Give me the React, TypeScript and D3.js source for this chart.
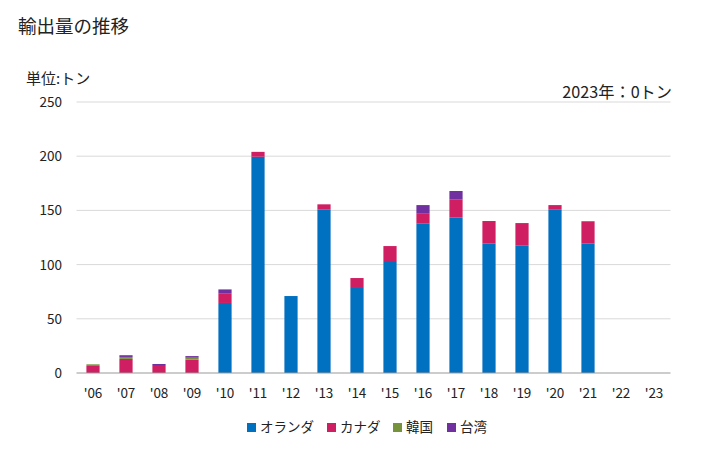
import React from "react";
import * as d3 from "d3";

const years = ["'06","'07","'08","'09","'10","'11","'12","'13","'14","'15","'16","'17","'18","'19","'20","'21","'22","'23"];
const netherlands = [0, 0, 0, 0, 64.6, 199.5, 71, 151, 79.3, 103.3, 137.7, 143.3, 119.3, 117.4, 150.6, 119.3, 0, 0];
const canada = [6.5, 13, 6.5, 12.3, 9, 4.5, 0, 4.6, 8.3, 13.8, 9.2, 16.6, 20.9, 20.9, 4.3, 20, 0, 0];
const korea = [1.5, 1.8, 0, 1.8, 0, 0, 0, 0, 0, 0, 0, 0, 0, 0, 0, 0.9, 0, 0];
const taiwan = [0, 1.6, 1.8, 1.5, 3.5, 0, 0, 0, 0, 0, 8, 8, 0, 0, 0, 0, 0, 0];
const seriesNames = ["オランダ", "カナダ", "韓国", "台湾"];
const colors = ["#0070c0", "#d01e62", "#76933c", "#7030a0"];
const yTicks = [0, 50, 100, 150, 200, 250];

const W = 728, H = 450;
const left = 76.5, right = 670.5, top = 102, bottom = 373;
const font = "'Noto Sans CJK JP', 'Noto Sans', sans-serif";

export default function App() {
  const x = d3.scaleBand<string>().domain(years).range([left, right]).paddingInner(0.6).paddingOuter(0.3);
  const y = d3.scaleLinear().domain([0, 250]).range([bottom, top]);
  const rows = years.map((yr, i) => ({ yr, s0: netherlands[i], s1: canada[i], s2: korea[i], s3: taiwan[i] }));
  const stack = d3.stack<any>().keys(["s0", "s1", "s2", "s3"])(rows);
  const legendX = [247, 327, 393, 447];
  return (
    <svg width={W} height={H} style={{ position: "absolute", left: 0, top: 0, background: "#fff" }} fontFamily={font}>
      <text x={18} y={33} fontSize={18.5} fill="#222">輸出量の推移</text>
      <text x={26} y={84} fontSize={15} fill="#222">単位:トン</text>
      <text x={672} y={98} fontSize={16.2} fill="#222" textAnchor="end">2023年：0トン</text>
      {yTicks.map((t) => (
        <g key={t}>
          {t > 0 && <line x1={left} x2={right} y1={y(t)} y2={y(t)} stroke="#d9d9d9" strokeWidth={1} />}
          <text x={62} y={y(t) + 5} fontSize={13.5} fill="#222" textAnchor="end">{t}</text>
        </g>
      ))}
      {stack.map((layer, si) => (
        <g key={si} fill={colors[si]}>
          {layer.map((d, i) => {
            const h = y(d[0]) - y(d[1]);
            if (h <= 0) return null;
            return <rect key={i} x={x(years[i])!} y={y(d[1])} width={x.bandwidth()} height={h} />;
          })}
        </g>
      ))}
      <line x1={left} x2={right} y1={bottom} y2={bottom} stroke="#999" strokeWidth={1} />
      {years.map((yr) => (
        <text key={yr} x={x(yr)! + x.bandwidth() / 2} y={398} fontSize={13.5} fill="#222" textAnchor="middle">{yr}</text>
      ))}
      {seriesNames.map((n, i) => (
        <g key={n}>
          <rect x={legendX[i]} y={423} width={9} height={9} fill={colors[i]} />
          <text x={legendX[i] + 13} y={432} fontSize={13.5} fill="#222">{n}</text>
        </g>
      ))}
    </svg>
  );
}
